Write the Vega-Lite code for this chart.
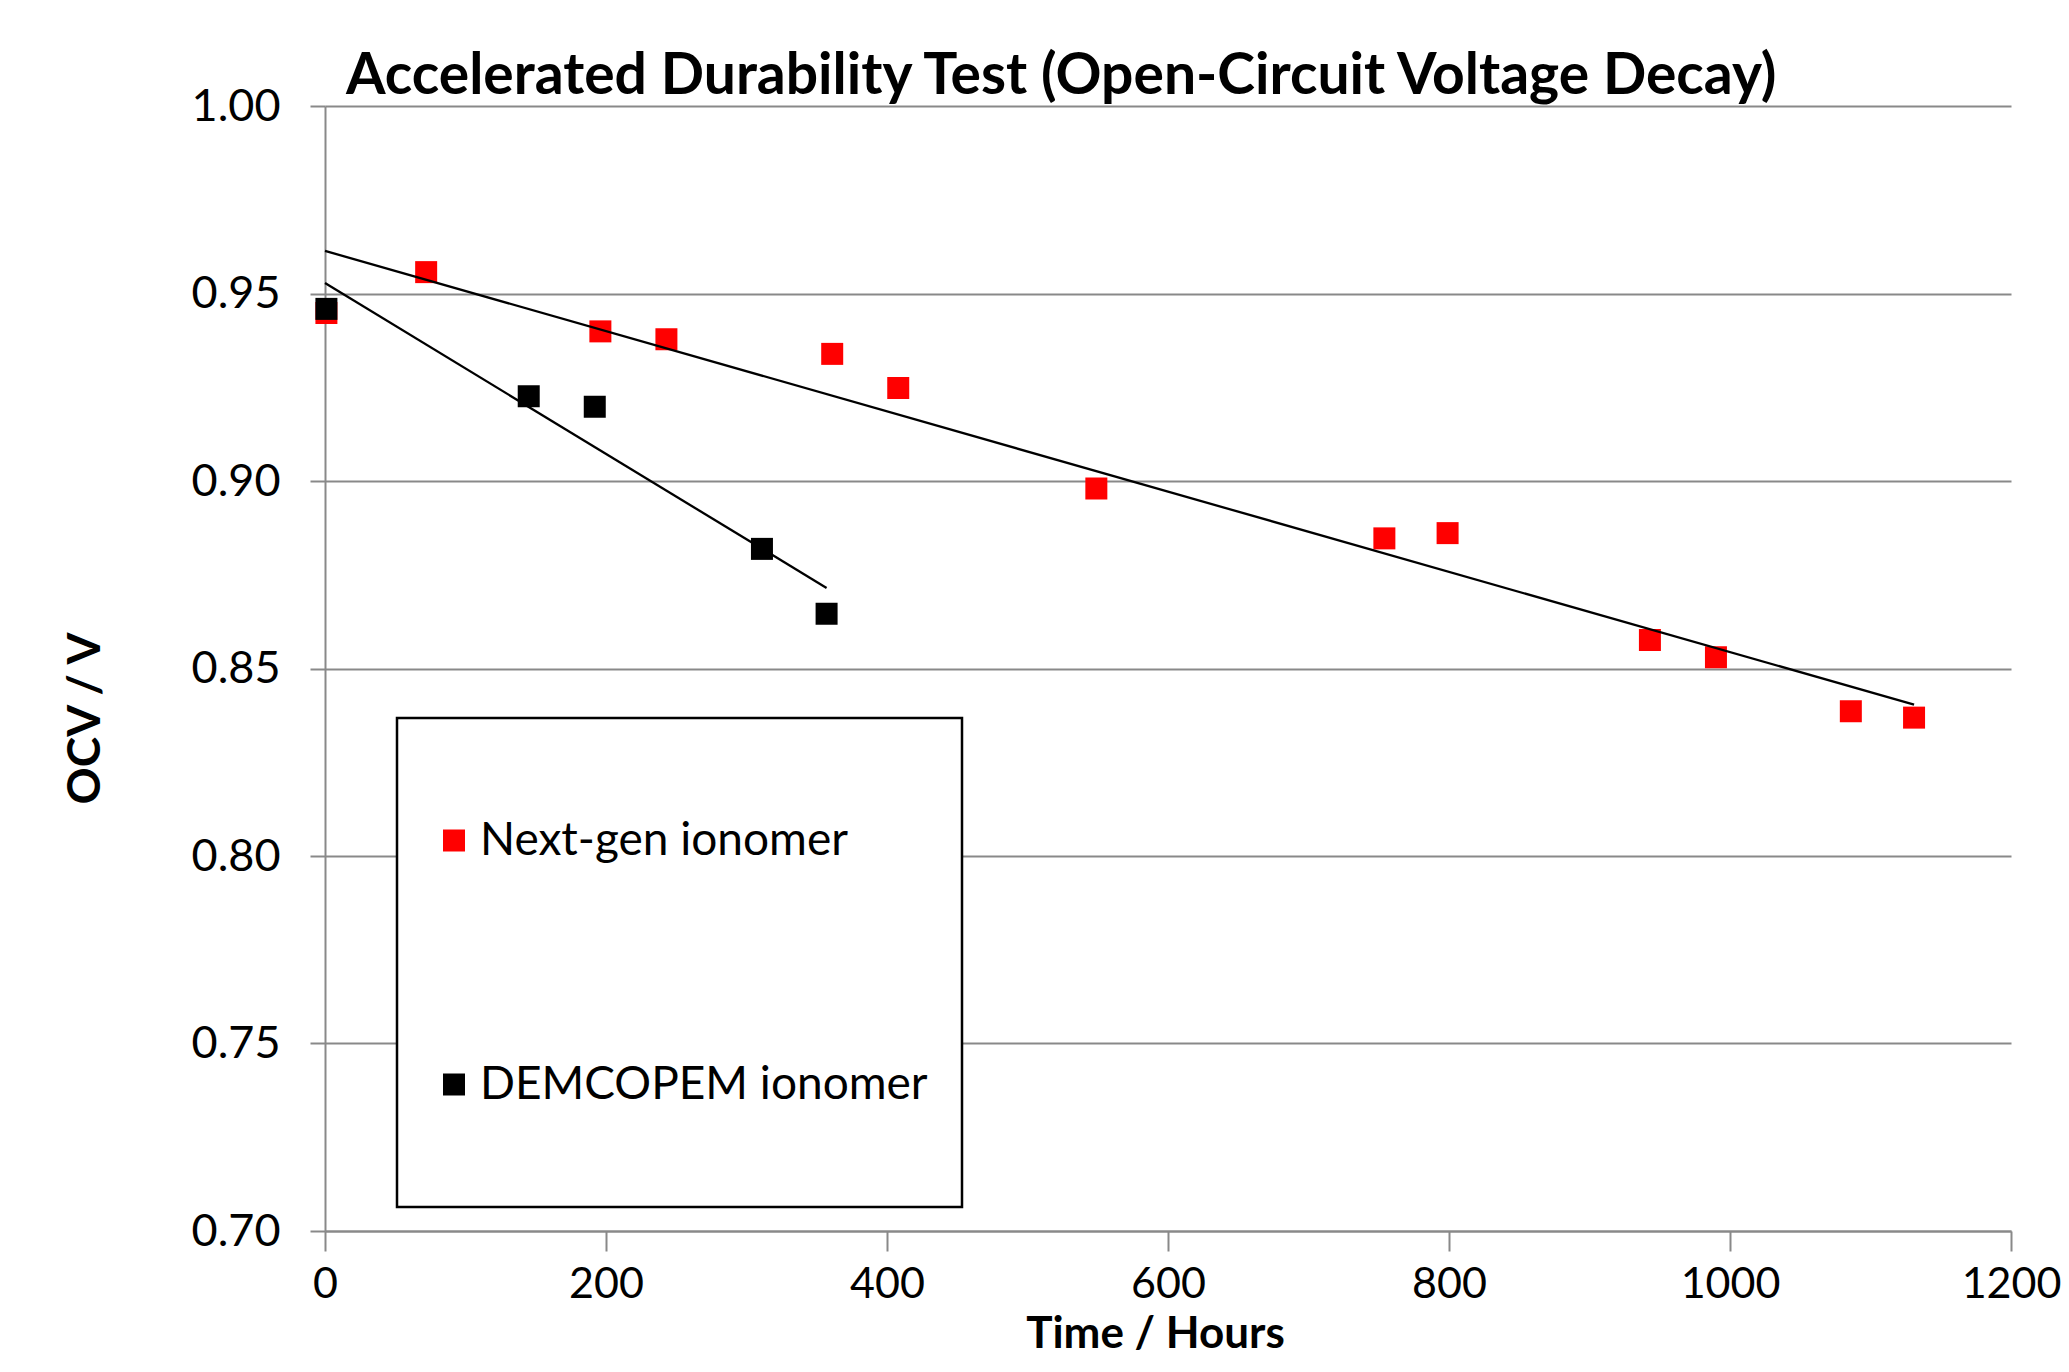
{
  "$schema": "https://vega.github.io/schema/vega-lite/v6.json",
  "width": 1686,
  "height": 1125,
  "padding": {"left": 325, "top": 106, "right": 58, "bottom": 141},
  "autosize": {"type": "none"},
  "background": "white",
  "title": {
    "text": "Accelerated Durability Test (Open-Circuit Voltage Decay)",
    "anchor": "start",
    "frame": "group",
    "dx": 21,
    "offset": -22,
    "font": "Lato",
    "fontSize": 57,
    "fontWeight": "bold",
    "color": "black"
  },
  "data": {
    "values": [
      {"series": "Next-gen ionomer", "time": 1, "ocv": 0.9448},
      {"series": "Next-gen ionomer", "time": 72, "ocv": 0.9557},
      {"series": "Next-gen ionomer", "time": 196, "ocv": 0.9399},
      {"series": "Next-gen ionomer", "time": 243, "ocv": 0.9378},
      {"series": "Next-gen ionomer", "time": 361, "ocv": 0.9339},
      {"series": "Next-gen ionomer", "time": 408, "ocv": 0.9248},
      {"series": "Next-gen ionomer", "time": 549, "ocv": 0.898},
      {"series": "Next-gen ionomer", "time": 754, "ocv": 0.8847},
      {"series": "Next-gen ionomer", "time": 799, "ocv": 0.8861},
      {"series": "Next-gen ionomer", "time": 943, "ocv": 0.8576},
      {"series": "Next-gen ionomer", "time": 990, "ocv": 0.853},
      {"series": "Next-gen ionomer", "time": 1086, "ocv": 0.8386},
      {"series": "Next-gen ionomer", "time": 1131, "ocv": 0.8369},
      {"series": "DEMCOPEM ionomer", "time": 1, "ocv": 0.9459},
      {"series": "DEMCOPEM ionomer", "time": 145, "ocv": 0.9226},
      {"series": "DEMCOPEM ionomer", "time": 192, "ocv": 0.9198},
      {"series": "DEMCOPEM ionomer", "time": 311, "ocv": 0.8819},
      {"series": "DEMCOPEM ionomer", "time": 357, "ocv": 0.8646}
    ]
  },
  "encoding": {
    "x": {
      "field": "time",
      "type": "quantitative",
      "scale": {"domain": [0, 1200], "nice": false, "zero": false},
      "axis": {
        "values": [0, 200, 400, 600, 800, 1000, 1200],
        "format": "d",
        "grid": false,
        "domainColor": "#898989",
        "domainWidth": 2,
        "tickColor": "#898989",
        "tickWidth": 2,
        "tickSize": 20,
        "labelFont": "Lato",
        "labelFontSize": 43,
        "labelColor": "black",
        "labelPadding": 12,
        "labelFlush": false,
        "title": "Time / Hours",
        "titleFont": "Lato",
        "titleFontSize": 44,
        "titleFontWeight": "bold",
        "titleColor": "black",
        "titlePadding": 6,
        "titleX": 830
      }
    },
    "y": {
      "field": "ocv",
      "type": "quantitative",
      "scale": {"domain": [0.7, 1.0], "nice": false, "zero": false},
      "axis": {
        "values": [0.7, 0.75, 0.8, 0.85, 0.9, 0.95, 1.0],
        "format": ".2f",
        "grid": true,
        "gridColor": "#898989",
        "gridWidth": 2,
        "domainColor": "#898989",
        "domainWidth": 2,
        "tickColor": "#898989",
        "tickWidth": 2,
        "tickSize": 15,
        "labelFont": "Lato",
        "labelFontSize": 45,
        "labelColor": "black",
        "labelPadding": 30,
        "labelFlush": false,
        "title": "OCV / V",
        "titleFont": "Lato",
        "titleFontSize": 46,
        "titleFontWeight": "bold",
        "titleColor": "black",
        "titlePadding": 82,
        "titleY": 612
      }
    }
  },
  "layer": [
    {
      "mark": {"type": "point", "shape": "square", "filled": true, "size": 484, "opacity": 1},
      "encoding": {
        "color": {
          "field": "series",
          "type": "nominal",
          "scale": {"domain": ["Next-gen ionomer", "DEMCOPEM ionomer"], "range": ["#FF0000", "#000000"]},
          "legend": {
            "orient": "none",
            "legendX": 72,
            "legendY": 612,
            "title": null,
            "direction": "vertical",
            "padding": 34,
            "clipHeight": 177,
            "rowPadding": 67,
            "symbolType": "square",
            "symbolSize": 484,
            "symbolStrokeWidth": 0,
            "labelFont": "Lato",
            "labelFontSize": 46,
            "labelColor": "black",
            "labelOffset": 3,
            "labelLimit": 1000,
            "strokeColor": "black",
            "fillColor": "white"
          }
        }
      }
    },
    {
      "transform": [
        {"filter": "datum.series === 'Next-gen ionomer'"},
        {"regression": "ocv", "on": "time", "extent": [0, 1131]}
      ],
      "mark": {"type": "line", "color": "black", "strokeWidth": 2.3},
      "encoding": {}
    },
    {
      "transform": [
        {"filter": "datum.series === 'DEMCOPEM ionomer'"},
        {"regression": "ocv", "on": "time", "extent": [0, 357]}
      ],
      "mark": {"type": "line", "color": "black", "strokeWidth": 2.3},
      "encoding": {}
    }
  ],
  "config": {
    "view": {"stroke": null},
    "legend": {"strokeWidth": 2.5}
  }
}
